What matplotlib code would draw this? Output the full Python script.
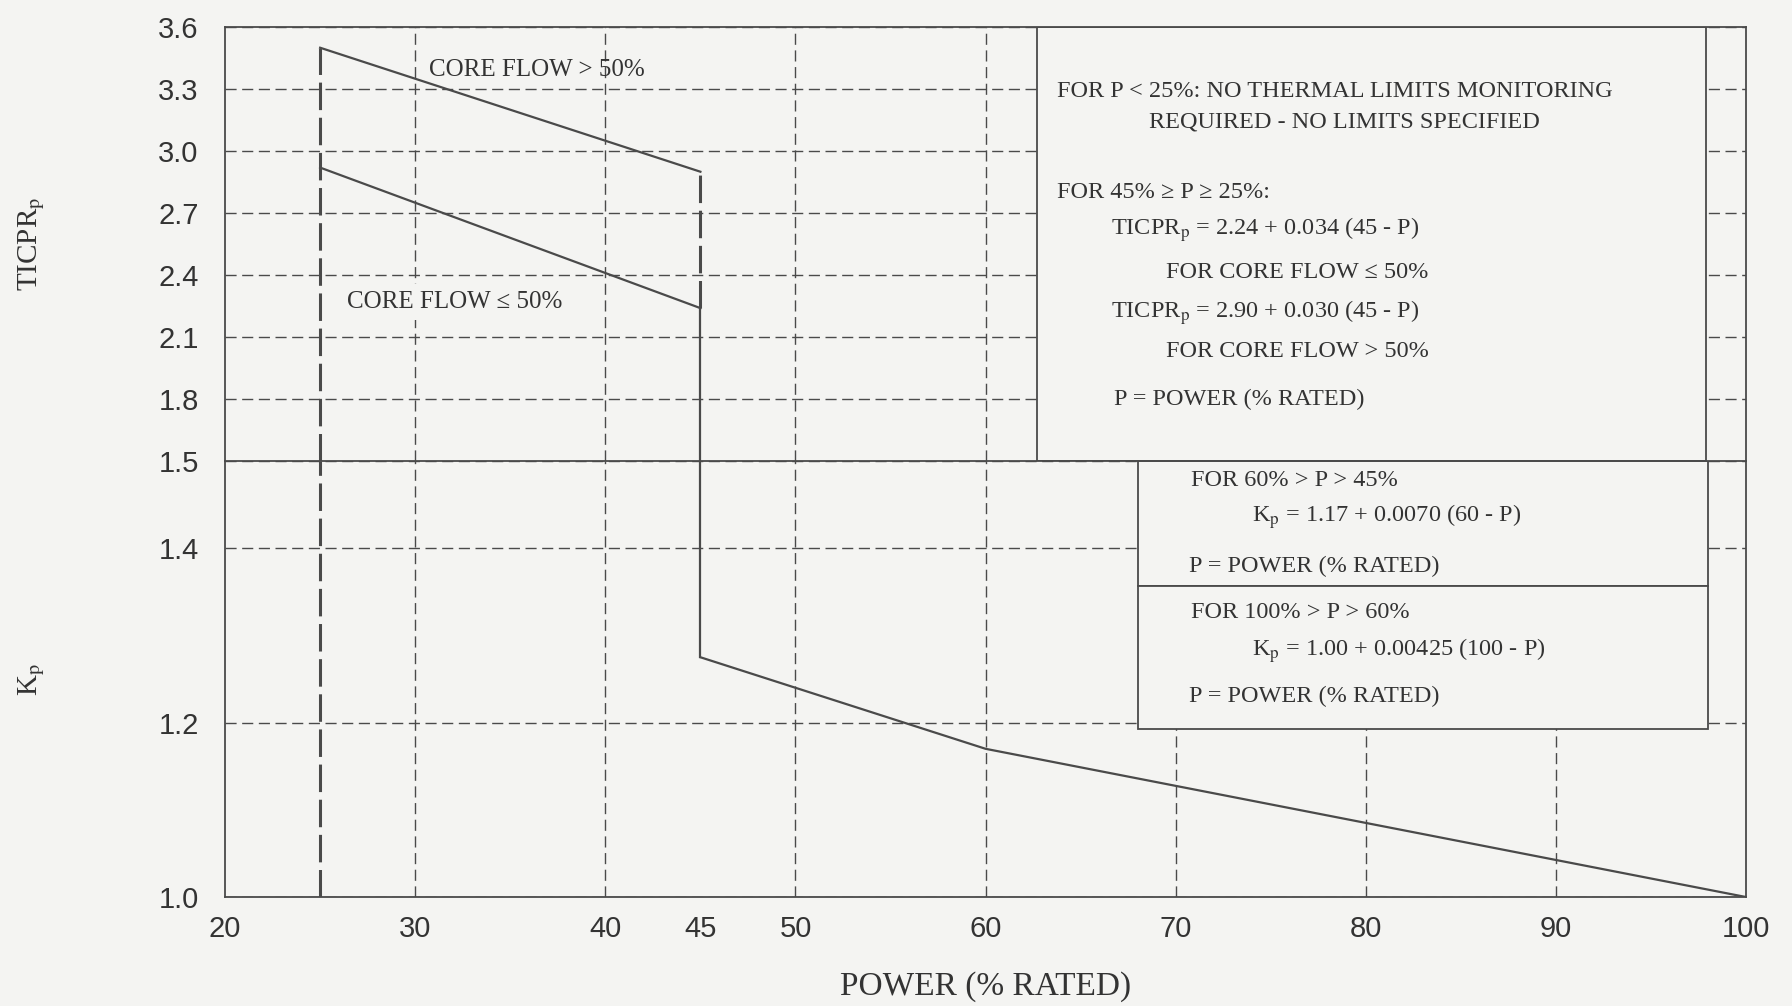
import matplotlib
matplotlib.use("Agg")
import matplotlib.pyplot as plt
from matplotlib.patches import Rectangle


# curve data
P_HIGH=[25,45]
TICPR_HIGH=[3.50,2.90]       # core flow > 50%
P_LOW=[25,45]
TICPR_LOW=[2.92,2.24]        # core flow <= 50%
P_KP=[45,60,100]
KP=[1.275,1.17,1.00]

X_TICKS=[20,30,40,45,50,60,70,80,90,100]
X_GRID=[30,40,50,60,70,80,90]
Y_TICKS_TOP=[1.8,2.1,2.4,2.7,3.0,3.3,3.6]
Y_TICKS_BOT=[1.0,1.2,1.4,1.5]

BOX_TOP_TEXT=[
	(63.75,3.29,"FOR P < 25%: NO THERMAL LIMITS MONITORING"),
	(68.6,3.14,"REQUIRED - NO LIMITS SPECIFIED"),
	(63.75,2.80,"FOR 45% \u2265 P \u2265 25%:"),
	(66.6,2.62,"TICPR$_{\\rm p}$ = 2.24 + 0.034 (45 - P)"),
	(69.5,2.41,"FOR CORE FLOW \u2264 50%"),
	(66.6,2.22,"TICPR$_{\\rm p}$ = 2.90 + 0.030 (45 - P)"),
	(69.5,2.03,"FOR CORE FLOW > 50%"),
	(66.75,1.80,"P = POWER (% RATED)"),
]
BOX_BOT_TEXT=[
	(70.8,1.478,"FOR 60% > P > 45%"),
	(74.0,1.436,"K$_{\\rm p}$ = 1.17 + 0.0070 (60 - P)"),
	(70.7,1.379,"P = POWER (% RATED)"),
	(70.8,1.326,"FOR 100% > P > 60%"),
	(74.0,1.283,"K$_{\\rm p}$ = 1.00 + 0.00425 (100 - P)"),
	(70.7,1.230,"P = POWER (% RATED)"),
]

BG="#f4f4f2"
INK="#4a4a4a"
TXT="#333333"
SERIF=["Liberation Serif","DejaVu Serif"]
SANS=["Liberation Sans","DejaVu Sans"]

plt.rcParams["mathtext.fontset"]="stix"
plt.rcParams["font.family"]=SERIF

fig=plt.figure(figsize=(17.92,10.06),dpi=100,facecolor=BG)
ax_t=fig.add_axes([0.1256,0.5417,0.8488,0.4314],facecolor=BG)
ax_b=fig.add_axes([0.1256,0.1083,0.8488,0.4334],facecolor=BG,sharex=ax_t)

for ax in (ax_t,ax_b):
	ax.set_axisbelow(True)
	for s in ax.spines.values():
		s.set_color(INK)
		s.set_linewidth(1.3)
	ax.xaxis.remove_overlapping_locs=False
	ax.set_xticks(X_TICKS)
	ax.set_xticks(X_GRID,minor=True)
	ax.grid(True,which="minor",axis="x",color=INK,linewidth=1.0,linestyle=(0,(8,4)))
	ax.grid(True,which="major",axis="y",color=INK,linewidth=1.0,linestyle=(0,(8,4)))
	ax.tick_params(which="both",length=0)
	ax.tick_params(axis="y",pad=19,labelsize=21,labelcolor=TXT)
	ax.tick_params(axis="x",pad=13,labelsize=21,labelcolor=TXT)

ax_t.spines["bottom"].set_visible(False)
ax_t.tick_params(axis="x",labelbottom=False)
ax_t.set_xlim(20,100)
ax_t.set_ylim(1.5,3.6)
ax_t.set_yticks(Y_TICKS_TOP)
ax_t.set_yticklabels([f"{v:.1f}" for v in Y_TICKS_TOP],family=SANS)
ax_b.set_ylim(1.0,1.5)
ax_b.set_yticks(Y_TICKS_BOT)
ax_b.set_yticklabels([f"{v:.1f}" for v in Y_TICKS_BOT],family=SANS)
ax_b.set_xticklabels([str(v) for v in X_TICKS],family=SANS)

# heavy long-dash lines at 25% and 45%
heavy=dict(color=INK,linewidth=2.2,linestyle=(0,(9,2.5)))
ax_t.plot([P_HIGH[0],P_HIGH[0]],[1.5,TICPR_HIGH[0]],**heavy,zorder=3)
ax_b.plot([P_HIGH[0],P_HIGH[0]],[1.0,1.5],**heavy,zorder=3)
ax_t.plot([P_HIGH[-1],P_HIGH[-1]],[TICPR_LOW[-1],TICPR_HIGH[-1]],**heavy,zorder=3)

# curves
ax_t.plot(P_HIGH,TICPR_HIGH,color=INK,linewidth=1.6,zorder=3)
ax_t.plot(P_LOW,TICPR_LOW,color=INK,linewidth=1.6,zorder=3)
ax_t.plot([P_LOW[-1],P_LOW[-1]],[1.5,TICPR_LOW[-1]],color=INK,linewidth=1.6,zorder=3)
ax_b.plot([P_KP[0],P_KP[0]],[KP[0],1.5],color=INK,linewidth=1.6,zorder=3)
ax_b.plot(P_KP,KP,color=INK,linewidth=1.6,zorder=3)

ax_t.text(30.7,3.39,"CORE FLOW > 50%",fontsize=18,color=TXT,va="center",zorder=4)
ax_t.text(26.4,2.27,"CORE FLOW \u2264 50%",fontsize=18,color=TXT,va="center",zorder=4,
	bbox=dict(facecolor=BG,edgecolor="none",pad=5))

# equation boxes
ax_t.add_patch(Rectangle((62.7,1.5),97.9-62.7,2.1,facecolor=BG,edgecolor=INK,linewidth=1.3,zorder=2))
ax_b.add_patch(Rectangle((68.0,1.357),30.0,1.5-1.357,facecolor=BG,edgecolor=INK,linewidth=1.3,zorder=2))
ax_b.add_patch(Rectangle((68.0,1.193),30.0,1.357-1.193,facecolor=BG,edgecolor=INK,linewidth=1.3,zorder=2))
for x,y,s in BOX_TOP_TEXT:
	ax_t.text(x,y,s,fontsize=17.5,color=TXT,va="center",zorder=4)
for x,y,s in BOX_BOT_TEXT:
	ax_b.text(x,y,s,fontsize=17.5,color=TXT,va="center",zorder=4)

ax_t.set_ylabel("TICPR$_{\\rm p}$",fontsize=21,color=TXT)
ax_b.set_ylabel("K$_{\\rm p}$",fontsize=21,color=TXT)
ax_t.yaxis.set_label_coords(-0.117,0.5)
ax_b.yaxis.set_label_coords(-0.117,0.5)
ax_b.set_xlabel("POWER (% RATED)",fontsize=24,color=TXT,labelpad=20)

plt.savefig("out.png",dpi=100,facecolor=BG)
